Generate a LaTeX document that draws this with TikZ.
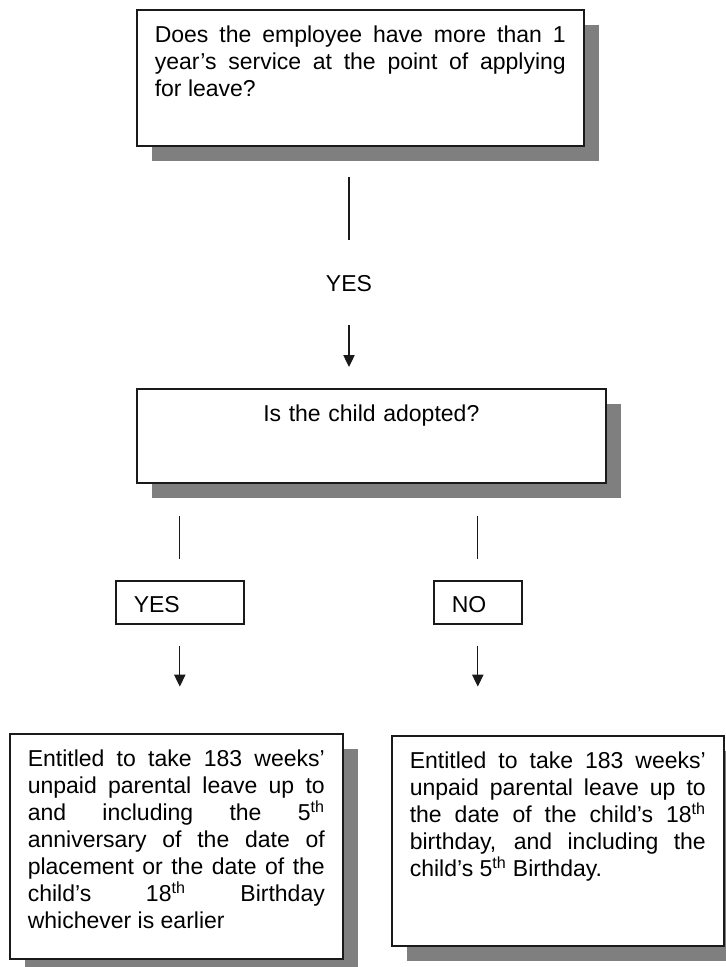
\documentclass[tikz,border=0pt]{standalone}
\usepackage{fontspec}
\setmainfont{Liberation Sans}
\usepackage{tikz}
\usetikzlibrary{arrows.meta,calc,shadows}
\definecolor{fink}{HTML}{1A1A1A}
\definecolor{fshadow}{HTML}{7F7F7F}
\tolerance=10000
\hyphenpenalty=10000

\begin{document}
\begin{tikzpicture}[x=0.75pt,y=-0.75pt,
  every node/.style={font=\fontsize{17.25pt}{20.25pt}\selectfont,text=black},
  card/.style={draw=fink,line width=1.2pt,fill=white,anchor=north west,
    inner xsep=13.5pt,inner ysep=0pt,text height=24.75pt,align=justify,
    general shadow={fill=fshadow,shadow xshift=11.25pt,shadow yshift=-11.25pt}},
  tag/.style={draw=fink,line width=1.2pt,anchor=north west,inner xsep=13.5pt,
    inner ysep=0pt,text height=24pt,text depth=8.25pt,align=left},
  link/.style={draw=fink,line width=0.9pt},
  arrow/.style={link,-{Triangle[length=9pt,width=8.5pt]}}]
  \useasboundingbox (0,0) rectangle (725,967);

  % question 1
  \node[card,text width=308.25pt,text depth=77.25pt] (service) at (136,9)
    {Does the employee have more than 1\linebreak year’s service at the point of applying\linebreak for leave?};
  \node (yes) at (349,284) {YES};

  % question 2
  \node[card,text width=324.75pt,text depth=45.75pt,align=center] (adopted) at (136,388)
    {Is the child adopted?};
  \node[tag,text width=69pt] (yesL) at (115,580) {YES};
  \node[tag,text width=39pt] (noR) at (433,580) {NO};

  % outcomes
  \node[card,text width=222.75pt,text depth=144pt] (adoptleave) at (9,733)
    {Entitled to take 183 weeks’\linebreak unpaid parental leave up to\linebreak
     and including the 5\textsuperscript{th}\linebreak anniversary of the date of\linebreak
     placement or the date of the\linebreak child’s 18\textsuperscript{th} Birthday\linebreak
     whichever is earlier};
  \node[card,text width=222pt,text depth=132.75pt] (birthleave) at (391,735)
    {Entitled to take 183 weeks’\linebreak unpaid parental leave up to\linebreak
     the date of the child’s 18\textsuperscript{th}\linebreak birthday, and including the\linebreak
     child’s 5\textsuperscript{th} Birthday.};

  % connectors
  \coordinate (stemA) at ($(yes)+(0,-107)$);
  \coordinate (stemB) at ($(yes)+(0,-44)$);
  \coordinate (stemC) at ($(yes)+(0,41)$);
  \coordinate (stemD) at ($(yes)+(0,83)$);
  \draw[link] (stemA) -- (stemB);
  \draw[arrow] (stemC) -- (stemD);

  \coordinate (leftA) at ($(yesL.north)+(0,-64)$);
  \coordinate (leftB) at ($(yesL.north)+(0,-21)$);
  \coordinate (leftC) at ($(yesL.south)+(0,21)$);
  \coordinate (leftD) at ($(yesL.south)+(0,62)$);
  \draw[link] (leftA) -- (leftB);
  \draw[arrow] (leftC) -- (leftD);

  \coordinate (rightA) at ($(noR.north)+(0,-64)$);
  \coordinate (rightB) at ($(noR.north)+(0,-21)$);
  \coordinate (rightC) at ($(noR.south)+(0,21)$);
  \coordinate (rightD) at ($(noR.south)+(0,62)$);
  \draw[link] (rightA) -- (rightB);
  \draw[arrow] (rightC) -- (rightD);
\end{tikzpicture}
\end{document}
